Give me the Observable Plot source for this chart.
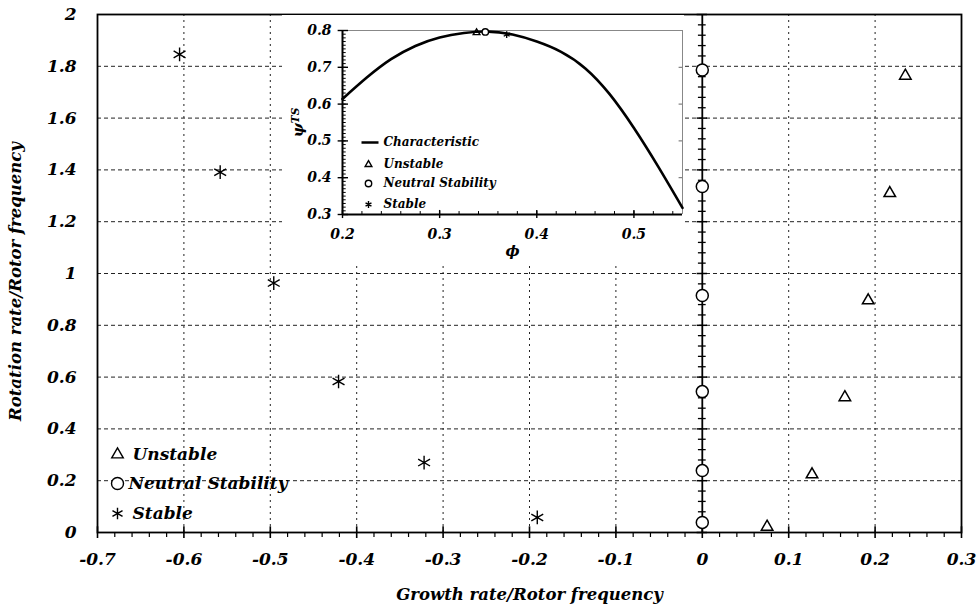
<!DOCTYPE html>
<html><head><meta charset="utf-8">
<script src="https://cdn.jsdelivr.net/npm/d3@7"></script>
<script src="https://cdn.jsdelivr.net/npm/@observablehq/plot@0.6"></script>
<style>
body{margin:0;background:#fff}
#wrap{position:relative;width:977px;height:611px}
#wrap > svg{position:absolute;left:0;top:0}
#wrap > svg.inset{left:282px;top:15px}
</style></head><body><div id="wrap"></div>
<script>
// ---- main chart data ----
const xTicks = [-0.7, -0.6, -0.5, -0.4, -0.3, -0.2, -0.1, 0, 0.1, 0.2, 0.3];
const yTicks = [0, 0.2, 0.4, 0.6, 0.8, 1, 1.2, 1.4, 1.6, 1.8, 2];
const stableX = [-0.605, -0.558, -0.496, -0.421, -0.322, -0.191];
const stableY = [1.846, 1.391, 0.963, 0.583, 0.27, 0.058];
const neutralX = [0, 0, 0, 0, 0, 0];
const neutralY = [1.786, 1.336, 0.915, 0.544, 0.239, 0.039];
const unstableX = [0.235, 0.217, 0.192, 0.165, 0.127, 0.075];
const unstableY = [1.763, 1.31, 0.896, 0.522, 0.224, 0.022];
const legendLabels = ["Unstable", "Neutral Stability", "Stable"];

// ---- inset data ----
const insetXTicks = [0.2, 0.3, 0.4, 0.5];
const insetYTicks = [0.3, 0.4, 0.5, 0.6, 0.7, 0.8];
const phi = [0.2, 0.225, 0.25, 0.275, 0.3, 0.325, 0.35, 0.375, 0.4, 0.425, 0.45, 0.475, 0.5, 0.525, 0.55];
const psi = [0.614, 0.672, 0.722, 0.758, 0.781, 0.793, 0.797, 0.789, 0.77, 0.742, 0.697, 0.627, 0.535, 0.43, 0.318];
const insetPhi = [0.338, 0.347, 0.369];
const insetPsi = [0.794, 0.796, 0.789];
const insetLegend = ["Characteristic", "Unstable", "Neutral Stability", "Stable"];

const minorX = d3.range(-0.7, 0.3001, 0.02).filter(v => Math.abs(Math.round(v * 10) - v * 10) > 1e-6);
const minorY = d3.range(0, 2.0001, 0.04).filter(v => Math.abs(Math.round(v * 5) - v * 5) > 1e-6);
const insetMinorX = d3.range(0.2, 0.5501, 0.02);
const insetMinorY = d3.range(0.3, 0.8001, 0.01);

const fmt = d => String(+(+d).toFixed(2));
const pts = (xs, ys) => xs.map((x, i) => ({x, y: ys[i]}));
const font = {fontFamily: "DejaVu Serif", fontStyle: "italic", fontWeight: "bold"};

const lineSymbol = {draw(ctx, size) { const r = Math.sqrt(size / Math.PI); ctx.moveTo(-r, 0); ctx.lineTo(r, 0); }};

const mainLegendMarks = [];
const legSym = ["triangle2", "circle", "asterisk"];
const legDy = [-78, -49, -19];
const legTextDx = [35, 31, 35];
legendLabels.forEach((lab, i) => {
  mainLegendMarks.push(Plot.dot([lab], {frameAnchor: "bottom-left", dx: 20, dy: legDy[i], symbol: legSym[i], r: i === 1 ? 6 : 5.5, stroke: "black", strokeWidth: 1.4, fill: i === 1 ? "white" : "none"}));
  mainLegendMarks.push(Plot.text([lab], {text: d => d, frameAnchor: "bottom-left", dx: legTextDx[i], dy: legDy[i], textAnchor: "start", lineAnchor: "middle", fontSize: 17, ...font}));
});

const main = Plot.plot({
  width: 977, height: 611,
  marginLeft: 97, marginRight: 16, marginTop: 14, marginBottom: 79,
  style: {background: "white", color: "black", fontSize: "17px", ...font},
  x: {domain: [-0.7, 0.3], label: null},
  y: {domain: [0, 2], label: null},
  marks: [
    Plot.ruleY(yTicks.filter(d => d > 0 && d < 2), {stroke: "#222", strokeWidth: 1, strokeDasharray: "4,3"}),
    Plot.ruleX(xTicks.filter(d => d !== 0 && d > -0.7 && d < 0.3), {stroke: "#222", strokeWidth: 1, strokeDasharray: "2,4"}),
    Plot.ruleX([0], {stroke: "black", strokeWidth: 1.8}),
    Plot.ruleY(minorY, {x1: -0.0045, x2: 0.0045, stroke: "black", strokeWidth: 1.3}),
    Plot.ruleY(yTicks, {x1: -0.006, x2: 0.006, stroke: "black", strokeWidth: 1.5}),
    Plot.frame({stroke: "black", strokeWidth: 1.8}),
    Plot.ruleX(xTicks, {y1: 0, y2: 0.022, stroke: "black", strokeWidth: 1.6}),
    Plot.axisX({ticks: xTicks, tickSize: 6, tickPadding: 14, tickFormat: fmt, strokeWidth: 1.6, fontSize: 17, ...font}),
    Plot.axisX({ticks: minorX, tickSize: 5, tickFormat: () => "", strokeWidth: 1.2}),
    Plot.axisY({ticks: yTicks, tickSize: 0, tickPadding: 21, tickFormat: fmt, fontSize: 17, ...font}),
    Plot.dot(pts(stableX, stableY), {x: "x", y: "y", symbol: "asterisk", r: 6.5, stroke: "black", strokeWidth: 1.4}),
    Plot.dot(pts(neutralX, neutralY), {x: "x", y: "y", symbol: "circle", r: 6, stroke: "black", strokeWidth: 1.5, fill: "white"}),
    Plot.dot(pts(unstableX, unstableY), {x: "x", y: "y", symbol: "triangle2", r: 5.5, stroke: "black", strokeWidth: 1.5, fill: "none"}),
    ...mainLegendMarks,
    Plot.text(["Growth rate/Rotor frequency"], {text: d => d, frameAnchor: "bottom", dy: 62, textAnchor: "middle", lineAnchor: "middle", fontSize: 16.5, ...font}),
    Plot.text(["Rotation rate/Rotor frequency"], {text: d => d, frameAnchor: "left", dx: -82, dy: 8, rotate: -90, textAnchor: "middle", lineAnchor: "middle", fontSize: 16.5, ...font})
  ]
});

// ---- inset ----
const insetLegendMarks = [];
const insDy = [112, 134, 153, 174];
const insSym = [lineSymbol, "triangle2", "circle", "asterisk"];
insetLegend.forEach((lab, i) => {
  insetLegendMarks.push(Plot.dot([lab], {frameAnchor: "top-left", dx: i === 0 ? 27.5 : 26, dy: insDy[i], symbol: insSym[i], r: i === 0 ? 8.5 : 3.2, stroke: "black", strokeWidth: i === 0 ? 2.5 : 1.4, fill: i === 2 ? "white" : "none"}));
  insetLegendMarks.push(Plot.text([lab], {text: d => d, frameAnchor: "top-left", dx: 41, dy: insDy[i], textAnchor: "start", lineAnchor: "middle", fontSize: 12, ...font}));
});
const insetSyms = ["triangle2", "circle", "asterisk"];

const inset = Plot.plot({
  className: "inset",
  width: 402, height: 250,
  marginLeft: 60, marginRight: 2, marginTop: 15, marginBottom: 51,
  style: {background: "white", color: "black", fontSize: "14px", ...font},
  x: {domain: [0.2, 0.55], label: null},
  y: {domain: [0.3, 0.8], label: null},
  marks: [
    Plot.ruleY([0.8], {stroke: "#888", strokeWidth: 1}),
    Plot.ruleX([0.55], {stroke: "#888", strokeWidth: 1}),
    Plot.ruleX([0.2], {stroke: "black", strokeWidth: 2}),
    Plot.ruleY([0.3], {stroke: "black", strokeWidth: 2}),
    Plot.ruleX(insetMinorX, {y1: 0.3, y2: 0.308, stroke: "black", strokeWidth: 1}),
    Plot.ruleX(insetXTicks, {y1: 0.289, y2: 0.311, stroke: "black", strokeWidth: 1.4}),
    Plot.ruleY(insetMinorY, {x1: 0.2, x2: 0.2038, stroke: "black", strokeWidth: 1}),
    Plot.ruleY(insetYTicks, {x1: 0.1955, x2: 0.2062, stroke: "black", strokeWidth: 1.4}),
    Plot.ruleY(insetYTicks.slice(1, 5), {x1: 0.5465, x2: 0.55, stroke: "#666", strokeWidth: 1}),
    Plot.axisX({ticks: insetXTicks, tickSize: 0, tickPadding: 15, tickFormat: fmt, fontSize: 14, ...font}),
    Plot.axisY({ticks: insetYTicks, tickSize: 0, tickPadding: 11, tickFormat: fmt, fontSize: 14, ...font}),
    Plot.line(pts(phi, psi), {x: "x", y: "y", curve: "natural", stroke: "black", strokeWidth: 2.6}),
    ...insetPhi.map((p, i) => Plot.dot([{x: p, y: insetPsi[i]}], {x: "x", y: "y", symbol: insetSyms[i], r: 3.2, stroke: "black", strokeWidth: 1.4, fill: i === 1 ? "white" : "none"})),
    ...insetLegendMarks,
    Plot.text(["ϕ"], {text: d => d, frameAnchor: "bottom", dy: 37, textAnchor: "middle", lineAnchor: "middle", fontSize: 15, ...font}),
    Plot.text(["ψ"], {text: d => d, frameAnchor: "left", dx: -44, rotate: -90, textAnchor: "middle", lineAnchor: "middle", fontSize: 15, ...font, className: "psi"})
  ]
});

// superscript "TS" on the ψ label
d3.select(inset).selectAll("g.psi text").each(function() {
  const t = d3.select(this);
  t.text("ψ");
  t.append("tspan").attr("dy", "-0.45em").attr("font-size", "0.7em").text("TS");
});

const wrap = document.getElementById("wrap");
wrap.appendChild(main);
wrap.appendChild(inset);
</script></body></html>
